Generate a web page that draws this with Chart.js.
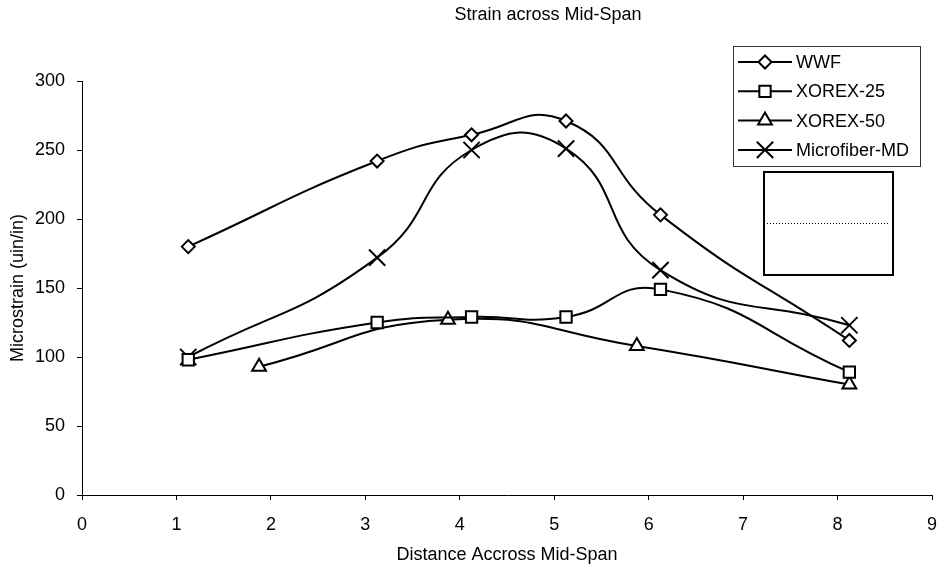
<!DOCTYPE html>
<html>
<head>
<meta charset="utf-8">
<title>Strain across Mid-Span</title>
<script src="https://cdn.jsdelivr.net/npm/chart.js@4.4.1/dist/chart.umd.min.js"></script>
<style>
  body { margin: 0; background: #fff; }
  #wrap { width: 937px; height: 569px; }
</style>
</head>
<body>
<div id="wrap"><canvas id="myChart" width="937" height="569"></canvas></div>
<script>
'use strict';

// Datos
const titulo = 'Strain across Mid-Span';
const tituloX = 'Distance Accross Mid-Span';
const tituloY = 'Microstrain (uin/in)';
const series = ['WWF', 'XOREX-25', 'XOREX-50', 'Microfiber-MD'];

const distancia = [1.125, 3.125, 4.125, 5.125, 6.125, 8.125];
const distancia50 = [1.875, 3.875, 5.875, 8.125];

const wwf = [180, 242, 261, 271, 203, 112];
const xorex25 = [98, 125, 129, 129, 149, 89];
const xorex50 = [93, 127, 108, 80];
const microfiber = [100, 172, 250, 251, 163, 123];

const ticksX = [0, 1, 2, 3, 4, 5, 6, 7, 8, 9];
const ticksY = [0, 50, 100, 150, 200, 250, 300];

const fuente = '"Liberation Sans", Arial, sans-serif';

function puntos(xs, ys) {
    return xs.map((x, i) => ({ x: x, y: ys[i] }));
}

function serie(label, data, estilo, radio) {
    return {
        label: label,
        data: data,
        showLine: true,
        tension: 0.5,
        borderColor: '#000',
        borderWidth: 2,
        pointStyle: estilo,
        pointRadius: radio,
        pointHoverRadius: radio,
        pointBackgroundColor: '#fff',
        pointBorderColor: '#000',
        pointBorderWidth: 2
    };
}

// Titulos, leyenda y el recuadro vacio
const decoracion = {
    id: 'decoracion',
    afterDraw(chart) {
        const c = chart.ctx;
        const area = chart.chartArea;
        c.save();
        c.fillStyle = '#000';
        c.font = '18px ' + fuente;
        c.textAlign = 'center';
        c.textBaseline = 'middle';
        c.fillText(titulo, 548, 15);
        c.fillText(tituloX, (area.left + area.right) / 2, 555);
        c.save();
        c.translate(18, (area.top + area.bottom) / 2);
        c.rotate(-Math.PI / 2);
        c.fillText(tituloY, 0, 0);
        c.restore();

        // leyenda
        c.strokeStyle = '#333';
        c.lineWidth = 1;
        c.strokeRect(733.5, 46.5, 187, 120);
        c.textAlign = 'left';
        chart.data.datasets.forEach((ds, i) => {
            const y = 62 + i * 29.3;
            c.strokeStyle = '#000';
            c.lineWidth = 2;
            c.beginPath();
            c.moveTo(738, y);
            c.lineTo(792, y);
            c.stroke();
            c.fillStyle = '#fff';
            Chart.helpers.drawPoint(c, { pointStyle: ds.pointStyle, radius: ds.pointRadius, borderWidth: 2, rotation: 0 }, 765, y);
            c.fillStyle = '#000';
            c.fillText(ds.label, 796, y + 1);
        });

        // recuadro con linea punteada
        c.strokeStyle = '#000';
        c.lineWidth = 2;
        c.strokeRect(764, 172, 129, 103);
        c.lineWidth = 1;
        c.setLineDash([1, 2]);
        c.beginPath();
        c.moveTo(767, 223.5);
        c.lineTo(889, 223.5);
        c.stroke();
        c.restore();
    }
};

const ctx = document.getElementById('myChart').getContext('2d');
const myChart = new Chart(ctx, {
    type: 'scatter',
    data: {
        datasets: [
            serie(series[0], puntos(distancia, wwf), 'rectRot', 6.5),
            serie(series[1], puntos(distancia, xorex25), 'rect', 8),
            serie(series[2], puntos(distancia50, xorex50), 'triangle', 8),
            serie(series[3], puntos(distancia, microfiber), 'crossRot', 11.5)
        ]
    },
    options: {
        responsive: false,
        animation: false,
        layout: { autoPadding: false, padding: { top: 81, right: 5, left: 0, bottom: 0 } },
        plugins: {
            legend: { display: false },
            title: { display: false },
            tooltip: { enabled: false }
        },
        scales: {
            x: {
                type: 'linear',
                min: 0,
                max: 9,
                afterBuildTicks: scale => { scale.ticks = ticksX.map(v => ({ value: v })); },
                afterFit: scale => {
                    scale.height = 74;
                    scale.paddingLeft = 0;
                    scale.paddingRight = 0;
                },
                grid: { drawOnChartArea: false, tickLength: 5, color: '#000' },
                border: { color: '#000', width: 1 },
                ticks: { color: '#000', font: { family: fuente, size: 18 }, padding: 14 }
            },
            y: {
                min: 0,
                max: 300,
                afterBuildTicks: scale => { scale.ticks = ticksY.map(v => ({ value: v })); },
                afterFit: scale => {
                    scale.width = 82;
                    scale.paddingTop = 0;
                    scale.paddingBottom = 0;
                },
                grid: { drawOnChartArea: false, tickLength: 5, color: '#000' },
                border: { color: '#000', width: 1 },
                ticks: { color: '#000', font: { family: fuente, size: 18 }, padding: 12 }
            }
        }
    },
    plugins: [decoracion]
});
</script>
</body>
</html>
